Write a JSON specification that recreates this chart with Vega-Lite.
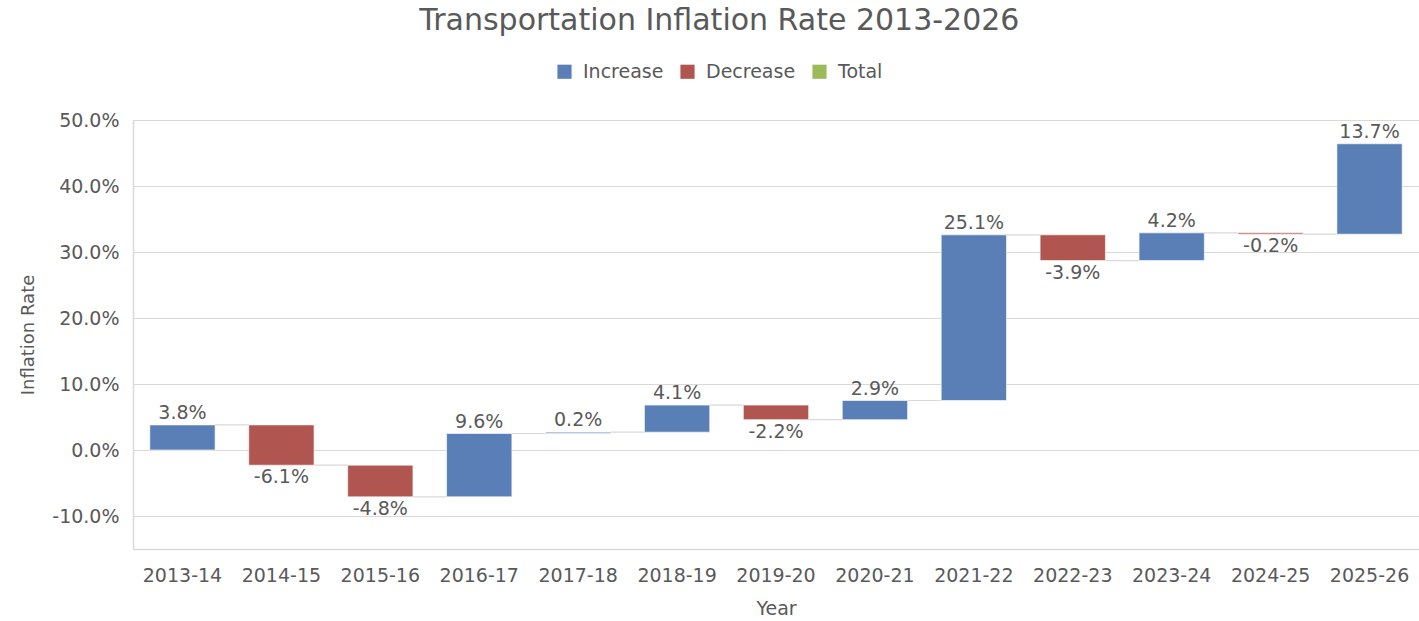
{
  "$schema": "https://vega.github.io/schema/vega-lite/v6.json",
  "width": 1286,
  "height": 429,
  "autosize": "none",
  "padding": {"left": 133, "top": 120, "right": 0, "bottom": 73},
  "background": "white",
  "config": {
    "font": "DejaVu Sans",
    "locale": {"number": {"decimal": ".", "thousands": ",", "grouping": [3], "currency": ["$", ""], "minus": "-"}},
    "view": {"stroke": null},
    "axis": {"labelColor": "#595959", "titleColor": "#595959", "labelFont": "DejaVu Sans", "titleFont": "DejaVu Sans"}
  },
  "title": {
    "text": "Transportation Inflation Rate 2013-2026",
    "fontSize": 30,
    "fontWeight": "normal",
    "color": "#595959",
    "anchor": "middle",
    "frame": "bounds",
    "offset": 26
  },
  "data": {
    "values": [
      {"year": "2013-14", "next": "2014-15", "start": 0.0, "end": 0.038, "change": 0.038, "type": "Increase"},
      {"year": "2014-15", "next": "2015-16", "start": 0.038, "end": -0.023, "change": -0.061, "type": "Decrease"},
      {"year": "2015-16", "next": "2016-17", "start": -0.023, "end": -0.071, "change": -0.048, "type": "Decrease"},
      {"year": "2016-17", "next": "2017-18", "start": -0.071, "end": 0.025, "change": 0.096, "type": "Increase"},
      {"year": "2017-18", "next": "2018-19", "start": 0.025, "end": 0.027, "change": 0.002, "type": "Increase"},
      {"year": "2018-19", "next": "2019-20", "start": 0.027, "end": 0.068, "change": 0.041, "type": "Increase"},
      {"year": "2019-20", "next": "2020-21", "start": 0.068, "end": 0.046, "change": -0.022, "type": "Decrease"},
      {"year": "2020-21", "next": "2021-22", "start": 0.046, "end": 0.075, "change": 0.029, "type": "Increase"},
      {"year": "2021-22", "next": "2022-23", "start": 0.075, "end": 0.326, "change": 0.251, "type": "Increase"},
      {"year": "2022-23", "next": "2023-24", "start": 0.326, "end": 0.287, "change": -0.039, "type": "Decrease"},
      {"year": "2023-24", "next": "2024-25", "start": 0.287, "end": 0.329, "change": 0.042, "type": "Increase"},
      {"year": "2024-25", "next": "2025-26", "start": 0.329, "end": 0.327, "change": -0.002, "type": "Decrease"},
      {"year": "2025-26", "next": null, "start": 0.327, "end": 0.464, "change": 0.137, "type": "Increase"}
    ]
  },
  "encoding": {
    "x": {
      "field": "year",
      "type": "ordinal",
      "sort": null,
      "scale": {"paddingInner": 0.34, "paddingOuter": 0.17},
      "axis": {
        "title": "Year",
        "titleFontSize": 19,
        "titleFontWeight": "normal",
        "titlePadding": 14,
        "labelAngle": 0,
        "labelFontSize": 19,
        "labelPadding": 17,
        "ticks": false,
        "domainColor": "#d9d9d9",
        "domainWidth": 1.5,
        "grid": false
      }
    }
  },
  "layer": [
    {
      "mark": {"type": "rule", "color": "#d9d9d9", "strokeWidth": 1.2, "xOffset": 32.6, "x2Offset": -32.6},
      "transform": [{"filter": "datum.next != null"}],
      "encoding": {
        "x2": {"field": "next"},
        "y": {"field": "end", "type": "quantitative"}
      }
    },
    {
      "mark": {"type": "bar", "stroke": "#ffffff", "strokeOpacity": 0.6, "strokeWidth": 1},
      "encoding": {
        "y": {
          "field": "start",
          "type": "quantitative",
          "scale": {"domain": [-0.15, 0.5], "nice": false, "zero": false},
          "axis": {
            "title": "Inflation Rate",
            "titleFontSize": 18,
            "titleFontWeight": "normal",
            "titlePadding": 14,
            "format": ".1%",
            "values": [-0.1, 0, 0.1, 0.2, 0.3, 0.4, 0.5],
            "labelFontSize": 19,
            "labelPadding": 14,
            "ticks": false,
            "domainColor": "#d9d9d9",
            "domainWidth": 1.5,
            "gridColor": "#d9d9d9",
            "gridWidth": 1.2
          }
        },
        "y2": {"field": "end"},
        "color": {
          "field": "type",
          "type": "nominal",
          "scale": {"domain": ["Increase", "Decrease", "Total"], "range": ["#5a7fb6", "#b0554f", "#9bbb59"]},
          "legend": {
            "title": null,
            "orient": "none",
            "direction": "horizontal",
            "legendX": 422,
            "legendY": -58,
            "symbolType": "square",
            "symbolSize": 200,
            "symbolStrokeWidth": 0,
            "labelFontSize": 19,
            "labelColor": "#595959",
            "columnPadding": 14,
            "labelOffset": 9
          }
        }
      }
    },
    {
      "transform": [{"filter": "datum.type == 'Increase'"}],
      "mark": {"type": "text", "baseline": "bottom", "dy": -2, "fontSize": 19, "color": "#595959"},
      "encoding": {
        "y": {"field": "end", "type": "quantitative"},
        "text": {"field": "change", "type": "quantitative", "format": ".1%"}
      }
    },
    {
      "transform": [{"filter": "datum.type == 'Decrease'"}],
      "mark": {"type": "text", "baseline": "top", "dy": 3, "fontSize": 19, "color": "#595959"},
      "encoding": {
        "y": {"field": "end", "type": "quantitative"},
        "text": {"field": "change", "type": "quantitative", "format": ".1%"}
      }
    }
  ]
}
